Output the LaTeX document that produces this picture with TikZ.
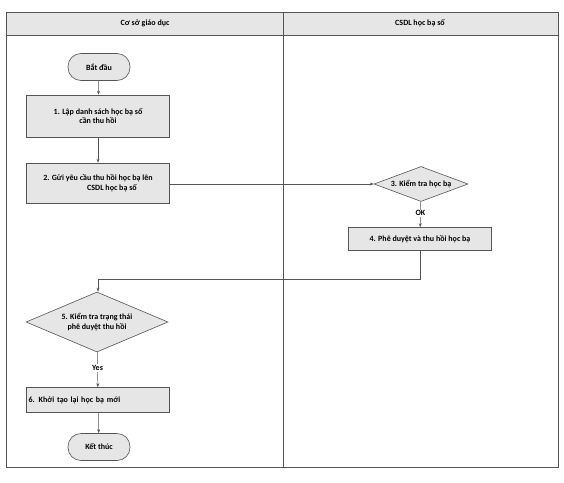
\documentclass[tikz,border=0pt]{standalone}
\usepackage{fontspec}
\setmainfont{Carlito}
\usetikzlibrary{shapes.geometric,arrows.meta}
\definecolor{boxfill}{HTML}{E6E6E6}
\definecolor{linegray}{HTML}{555555}
\tikzset{
  every node/.style={font=\bfseries\fontsize{8}{9.5}\selectfont, text=black},
  procbox/.style={draw=linegray, fill=boxfill, line width=0.6pt, minimum width=143pt, minimum height=40pt, align=center, inner sep=2pt},
  termbox/.style={draw=linegray, fill=boxfill, line width=0.6pt, rounded corners=13pt, minimum width=62pt, minimum height=27pt},
  decbox/.style={draw=linegray, fill=boxfill, line width=0.6pt, diamond, aspect=2.6, inner sep=1pt, align=center},
  conn/.style={draw=linegray, line width=0.5pt, -{Stealth[length=4pt,width=3pt]}},
  frame/.style={draw=linegray, line width=0.6pt},
}
\begin{document}
\begin{tikzpicture}[x=1pt,y=-1pt]
\useasboundingbox (0,0) rectangle (564,482);
% frame and lanes
\fill[boxfill] (6,12) rectangle (558,35);
\draw[frame] (6,12) rectangle (558,467);
\draw[frame] (6,35) -- (558,35);
\draw[frame] (283,12) -- (283,467);
\node (h1) at (145,23) {Cơ sở giáo dục};
\node (h2) at (420,23) {CSDL học bạ số};
% nodes
\node[termbox] (start) at (99,67) {Bắt đầu};
\node[procbox, minimum height=42pt] (s1) at (98,116) {1. Lập danh sách học bạ số\\cần thu hồi};
\node[procbox] (s2) at (98,183) {2. Gửi yêu cầu thu hồi học bạ lên\\\hspace*{28pt}CSDL học bạ số};
\node[decbox, minimum width=94pt, minimum height=35pt] (s3) at (421,184) {3. Kiểm tra học bạ};
\node[procbox, minimum height=23pt] (s4) at (420,239) {4. Phê duyệt và thu hồi học bạ};
\node[decbox, minimum width=142pt, minimum height=60pt] (s5) at (97,322) {5. Kiểm tra trạng thái\\phê duyệt thu hồi};
\node[procbox, minimum height=25pt, align=left, text width=139pt] (s6) at (98,400) {6. Khởi tạo lại học bạ mới};
\node[termbox] (end) at (99,447) {Kết thúc};
\coordinate (bend1) at (420,279);
\coordinate (bend2) at (98,279);
% connectors
\draw[conn] (start) -- (s1);
\draw[conn] (s1) -- (s2);
\draw[conn] (s2.east |- s3.west) -- (s3.west);
\draw[conn] (s3) -- node[fill=white, inner sep=1pt, pos=0.45] {OK} (s4);
\draw[conn] (s4.south) -- (bend1) -- (bend2) -- (s5.north -| bend2);
\draw[conn] (s5) -- node[fill=white, inner sep=1pt, pos=0.45] {Yes} (s6);
\draw[conn] (s6) -- (end);
\end{tikzpicture}
\end{document}
